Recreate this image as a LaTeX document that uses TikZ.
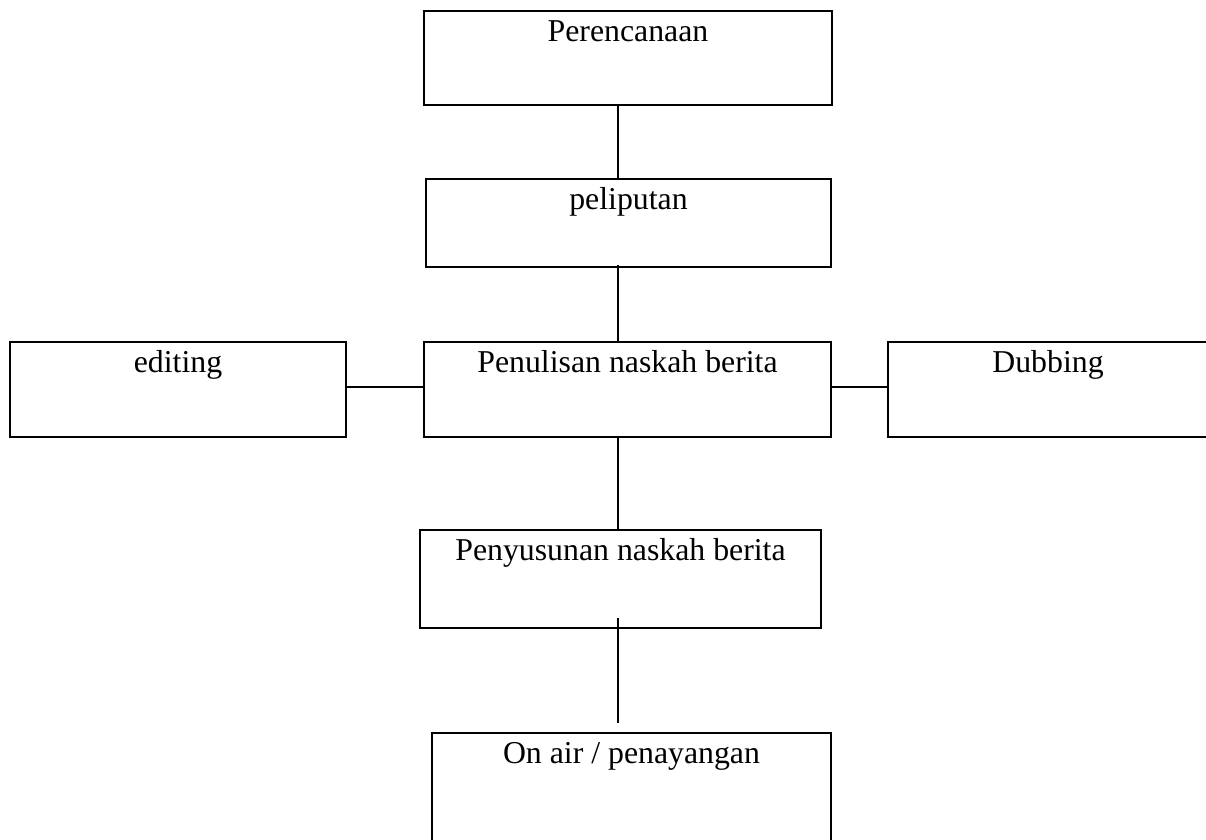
\documentclass[tikz,border=0pt]{standalone}
\usepackage{fontspec}
\setmainfont{Liberation Serif}
\usetikzlibrary{positioning,calc}

\begin{document}
\begin{tikzpicture}[
  x=1pt,y=-1pt,
  stage/.style={draw=black,line width=2pt,inner sep=0pt,outer sep=0pt,anchor=north west,font=\fontsize{31.8}{36}\selectfont,text height=30pt},
  link/.style={line width=1.3pt,color=black}
]
\useasboundingbox (0,0) rectangle (1206,839);
\coordinate (s) at (618,0);
\node[stage,minimum width=408pt,text depth=64pt] (a) at (424,11) {Perencanaan};
\node[stage,minimum width=405pt,text depth=58pt] (b) at (426,179) {peliputan};
\node[stage,minimum width=407pt,text depth=65pt] (c) at (424,342) {Penulisan naskah berita};
\node[stage,minimum width=336pt,text depth=65pt] (d) at (10,342) {editing};
\node[stage,minimum width=320pt,text depth=65pt] (e) at (888,342) {Dubbing};
\node[stage,minimum width=401pt,text depth=68pt] (f) at (420,530) {Penyusunan naskah berita};
\node[stage,minimum width=399pt,text depth=97pt] (g) at (432,733) {On air / penayangan};
\draw[link] (a.south -| s) -- (b.north -| s);
\draw[link] ([yshift=2pt]b.south -| s) -- (c.north -| s);
\draw[link] (c.south -| s) -- (f.north -| s);
\draw[link] ([yshift=10pt]f.south -| s) -- ([yshift=10pt]g.north -| s);
\draw[link] ([yshift=2.5pt]d.east) -- ([yshift=2.5pt]c.west);
\draw[link] ([yshift=2.5pt]c.east) -- ([yshift=2.5pt]e.west);
\end{tikzpicture}
\end{document}
